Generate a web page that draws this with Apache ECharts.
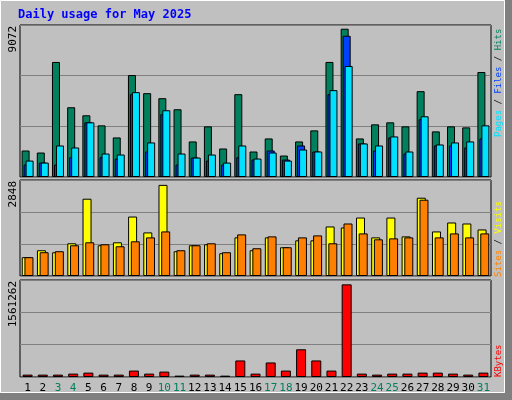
<!DOCTYPE html>
<html><head><meta charset="utf-8">
<script src="https://cdn.jsdelivr.net/npm/echarts@6/dist/echarts.min.js"></script>
<style>html,body{margin:0;padding:0;background:#c0c0c0}#c{width:512px;height:400px}</style>
</head><body><div id="c"></div>
<script>
let days = [];
for (let d = 1; d <= 31; d++) days.push(String(d));
let weekend = ['3', '4', '10', '11', '17', '18', '24', '25', '31'];

let hits = [1621, 1498, 7040, 4268, 3776, 3160, 2421, 6238, 5130, 4822, 4145, 2175, 3099, 1744, 5068, 1560,
  2360, 1313, 2175, 2852, 7040, 9072, 2360, 3222, 3345, 3099, 5253, 2791, 3099, 3037, 6423];
let files = [760, 882, 760, 1211, 3345, 1211, 1129, 5068, 1560, 3838, 760, 1190, 1005, 760, 1211, 1067,
  1621, 1067, 1929, 1560, 5068, 8641, 2052, 1621, 2421, 1436, 3530, 1929, 1929, 1806, 2360];
let pages = [1005, 882, 1929, 1806, 3345, 1436, 1375, 5192, 2114, 4084, 1436, 1190, 1375, 882, 1929, 1129,
  1498, 1005, 1683, 1560, 5315, 6794, 2052, 1929, 2483, 1560, 3714, 1990, 2114, 2175, 3160];
let visits = [588, 805, 743, 1022, 2415, 960, 1053, 1858, 1362, 2848, 774, 960, 991, 712, 1207, 805,
  1207, 898, 1115, 1115, 1548, 1517, 1827, 1207, 1827, 1238, 2446, 1393, 1672, 1641, 1455];
let sites = [588, 743, 774, 960, 1053, 991, 929, 1084, 1207, 1393, 805, 960, 1022, 743, 1300, 867,
  1238, 898, 1207, 1269, 1022, 1641, 1331, 1146, 1176, 1207, 2384, 1207, 1331, 1207, 1331];
let kbytes = [40000, 40000, 40000, 57000, 74000, 40000, 40000, 108000, 57000, 91000, 23000, 40000, 40000, 23000,
  279000, 57000, 245000, 108000, 467000, 279000, 108000, 1561262, 57000, 40000, 57000, 57000, 74000, 74000,
  57000, 40000, 74000];

let font = 'DejaVu Sans Mono';
let grids = [
  { left: 20, right: 21, top: 25, height: 152 },
  { left: 20, right: 21, top: 180, height: 96 },
  { left: 20, right: 21, top: 280, height: 97 }
].map(g => Object.assign(g, { show: true, borderColor: '#000', borderWidth: 1, backgroundColor: '#c0c0c0' }));

function xAx(i, showLabel) {
  return {
    type: 'category', gridIndex: i, data: days, boundaryGap: true,
    axisLine: { show: false }, axisTick: { show: false },
    axisLabel: {
      show: showLabel, interval: 0, fontFamily: font, fontSize: 11, margin: 6,
      color: v => weekend.indexOf(v) >= 0 ? '#00805c' : '#000'
    }
  };
}
function yAx(i, max, interval) {
  return {
    type: 'value', gridIndex: i, min: 0, max: max, interval: interval,
    axisLabel: { show: false }, axisLine: { show: false }, axisTick: { show: false },
    splitLine: { lineStyle: { color: '#808080', width: 1 } }
  };
}
function bar(name, data, color, i, w, gap) {
  return {
    name: name, type: 'bar', data: data, xAxisIndex: i, yAxisIndex: i,
    barWidth: w, barGap: gap, animation: false,
    itemStyle: { color: color, borderColor: '#000', borderWidth: 1 }
  };
}
// rotated label reading bottom-to-top; (x, y) is where the text starts
function vtext(x, y, text, rich, size, align) {
  return { type: 'text', x: x, y: y, rotation: Math.PI / 2,
    style: { text: text, font: size + 'px ' + font, fill: '#000', rich: rich, align: align, verticalAlign: 'middle' } };
}
let rs = c => ({ fill: c, font: '9px ' + font });

let chart = echarts.init(document.getElementById('c'));
chart.setOption({
  backgroundColor: '#c0c0c0',
  grid: grids,
  xAxis: [xAx(0, false), xAx(1, false), xAx(2, true)],
  yAxis: [yAx(0, 9300, 3100), yAx(1, 3000, 1000), yAx(2, 1635000, 545000)],
  series: [
    bar('Hits', hits, '#00805c', 0, 8, '-75%'),
    bar('Files', files, '#0040ff', 0, 8, '-75%'),
    bar('Pages', pages, '#00e0ff', 0, 8, '-75%'),
    bar('Visits', visits, '#ffff00', 1, 9, '-70%'),
    bar('Sites', sites, '#ff8000', 1, 9, '-70%'),
    bar('KBytes', kbytes, '#ff0000', 2, 10, '0%')
  ],
  graphic: [
    { type: 'rect', shape: { x: 0.5, y: 0.5, width: 504, height: 392 }, style: { fill: null, stroke: '#fff', lineWidth: 1 } },
    { type: 'rect', shape: { x: 505, y: 0, width: 7, height: 400 }, style: { fill: '#808080' } },
    { type: 'rect', shape: { x: 0, y: 393, width: 512, height: 7 }, style: { fill: '#808080' } },
    { type: 'text', x: 18, y: 9, style: { text: 'Daily usage for May 2025', font: 'bold 12px ' + font, fill: '#0000ff' } },
    vtext(13, 26, '9072', null, 11, 'right'),
    vtext(13, 181, '2848', null, 11, 'right'),
    vtext(13, 281, '1561262', null, 11, 'right'),
    vtext(499, 137, '{p|Pages} / {f|Files} / {h|Hits}', { p: rs('#00e0ff'), f: rs('#0040ff'), h: rs('#00805c') }, 9, 'left'),
    vtext(499, 277, '{s|Sites} / {v|Visits}', { s: rs('#ff8000'), v: rs('#ffff00') }, 9, 'left'),
    vtext(499, 377, '{k|KBytes}', { k: rs('#ff0000') }, 9, 'left')
  ]
});
</script></body></html>
